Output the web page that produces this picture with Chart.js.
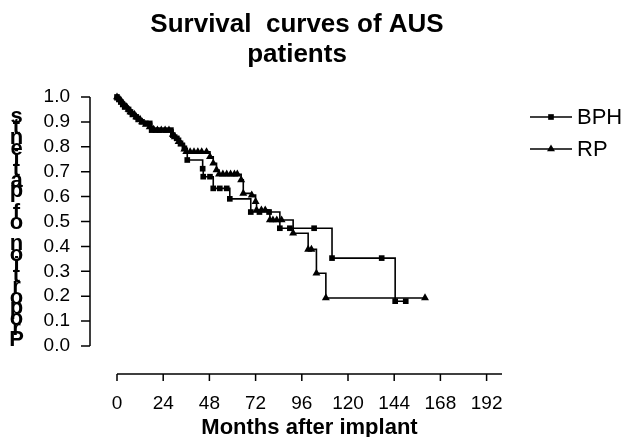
<!DOCTYPE html>
<html>
<head>
<meta charset="utf-8">
<script src="https://cdn.jsdelivr.net/npm/chart.js@4"></script>
<style>
  html, body { margin: 0; padding: 0; background: #fff; }
</style>
</head>
<body>
<canvas id="chart" width="624" height="437"></canvas>
<script>
const titleLines = ['Survival  curves of AUS', 'patients'];
const xTitle = 'Months after implant';
const yTitle = 'Proportion of patients';
const xTicks = [0, 24, 48, 72, 96, 120, 144, 168, 192];
const yTicks = [0, 0.1, 0.2, 0.3, 0.4, 0.5, 0.6, 0.7, 0.8, 0.9, 1.0];

const bphMonths = [0, 1, 2, 3, 4, 6, 7, 8, 10, 11, 13, 15, 17, 18, 20, 22, 25, 28, 29, 31, 33, 35,
  36.5, 44.5, 44.8, 48.3, 50, 53.4, 57, 58.6, 69.5, 74, 79, 84.6, 89.8, 102.4, 111.7, 137.5, 144.5, 150];
const bphSurvival = [1.0, 0.99, 0.98, 0.97, 0.96, 0.95, 0.94, 0.93, 0.92, 0.91, 0.90, 0.894, 0.894, 0.867,
  0.867, 0.867, 0.867, 0.867, 0.847, 0.834, 0.814, 0.794, 0.747, 0.712, 0.68, 0.68, 0.633, 0.633, 0.633,
  0.591, 0.538, 0.538, 0.538, 0.473, 0.473, 0.473, 0.353, 0.353, 0.18, 0.18];

const rpMonths = [0, 0.5, 1.5, 2.5, 3.5, 5, 6, 7, 9, 10, 12, 13, 15, 17, 19, 21, 23, 25, 27, 29, 30, 32,
  33.5, 35, 36, 38, 40, 42, 44, 46.5, 48.3, 50, 51.7, 53, 55, 57, 59, 61, 62.5, 64.5, 65.6, 70, 72, 72.5,
  75, 77, 79.4, 81, 83, 85.5, 91.5, 99.3, 101, 103.6, 108.5, 160];
const rpSurvival = [1.0, 0.995, 0.99, 0.98, 0.97, 0.96, 0.95, 0.94, 0.93, 0.92, 0.91, 0.90, 0.89, 0.88,
  0.87, 0.867, 0.867, 0.867, 0.867, 0.85, 0.84, 0.82, 0.81, 0.79, 0.78, 0.78, 0.78, 0.78, 0.78, 0.78,
  0.76, 0.734, 0.707, 0.69, 0.69, 0.69, 0.69, 0.69, 0.69, 0.667, 0.613, 0.606, 0.58, 0.546, 0.546, 0.546,
  0.506, 0.506, 0.506, 0.506, 0.453, 0.388, 0.388, 0.292, 0.193, 0.193];

const toPoints = (xs, ys) => xs.map((x, i) => ({ x: x, y: ys[i] }));
const FONT = "'Liberation Sans', Arial, sans-serif";

// title, stacked y title, offset axes and legend are drawn by hand
const extras = {
  id: 'extras',
  afterDraw(chart) {
    const ctx = chart.ctx;
    const area = chart.chartArea;
    const xs = chart.scales.x;
    const ys = chart.scales.y;
    ctx.save();
    ctx.strokeStyle = '#000';
    ctx.fillStyle = '#000';
    ctx.lineWidth = 1.5;

    // y axis, pulled left of the plot
    const ax = area.left - 27;
    ctx.beginPath();
    ctx.moveTo(ax, ys.getPixelForValue(1));
    ctx.lineTo(ax, ys.getPixelForValue(0));
    yTicks.forEach(v => {
      const py = ys.getPixelForValue(v);
      ctx.moveTo(ax - 9, py);
      ctx.lineTo(ax, py);
    });
    ctx.stroke();

    // x axis, pushed below the plot
    const ay = area.bottom + 28;
    ctx.beginPath();
    ctx.moveTo(xs.getPixelForValue(0), ay);
    ctx.lineTo(xs.getPixelForValue(200), ay);
    xTicks.forEach(v => {
      const px = xs.getPixelForValue(v);
      ctx.moveTo(px, ay);
      ctx.lineTo(px, ay + 7);
    });
    ctx.stroke();

    // title
    ctx.font = 'bold 26px ' + FONT;
    ctx.textAlign = 'center';
    ctx.textBaseline = 'middle';
    titleLines.forEach((t, i) => ctx.fillText(t, 297, 25 + i * 30));

    // y title, one letter per line, bottom-up
    ctx.font = 'bold 22px ' + FONT;
    ctx.textBaseline = 'alphabetic';
    const chars = yTitle.split('').reverse();
    chars.forEach((c, i) => ctx.fillText(c, 16.5, 123 + i * 10.62));

    // legend
    ctx.font = '22px ' + FONT;
    ctx.textAlign = 'left';
    ctx.textBaseline = 'middle';
    chart.data.datasets.forEach((ds, i) => {
      const ly = 117 + i * 32;
      ctx.beginPath();
      ctx.moveTo(530, ly);
      ctx.lineTo(572, ly);
      ctx.stroke();
      Chart.helpers.drawPoint(ctx, { pointStyle: ds.pointStyle, rotation: 0, radius: ds.pointRadius, borderWidth: 0 }, 551, ly);
      ctx.fillStyle = '#000';
      ctx.fillText(ds.label, 577, ly + 1);
    });
    ctx.restore();
  }
};

new Chart(document.getElementById('chart').getContext('2d'), {
  type: 'line',
  data: {
    datasets: [
      {
        label: 'BPH',
        data: toPoints(bphMonths, bphSurvival),
        stepped: true,
        borderColor: '#000',
        borderWidth: 1.6,
        pointStyle: 'rect',
        pointRadius: 4,
        pointBackgroundColor: '#000',
        pointBorderWidth: 0,
        clip: false
      },
      {
        label: 'RP',
        data: toPoints(rpMonths, rpSurvival),
        stepped: true,
        borderColor: '#000',
        borderWidth: 1.6,
        pointStyle: 'triangle',
        pointRadius: 4.6,
        pointBackgroundColor: '#000',
        pointBorderWidth: 0,
        clip: false
      }
    ]
  },
  options: {
    responsive: false,
    animation: false,
    layout: { padding: { top: 97, right: 122, left: 0, bottom: 0 } },
    plugins: {
      legend: { display: false },
      title: { display: false },
      tooltip: { enabled: false }
    },
    scales: {
      x: {
        type: 'linear',
        min: 0,
        max: 200,
        afterBuildTicks: s => { s.ticks = xTicks.map(v => ({ value: v })); },
        afterFit: s => { s.height = 91; },
        grid: { display: false },
        border: { display: false },
        ticks: { color: '#000', font: { family: FONT, size: 19 }, padding: 38, maxRotation: 0, autoSkip: false },
        title: {
          display: true,
          text: xTitle,
          color: '#000',
          font: { family: FONT, size: 22, weight: 'bold', lineHeight: 1 },
          padding: { top: 0, bottom: -2 }
        }
      },
      y: {
        min: 0,
        max: 1,
        afterBuildTicks: s => { s.ticks = yTicks.map(v => ({ value: v })); },
        afterFit: s => { s.width = 117; },
        grid: { display: false },
        border: { display: false },
        ticks: { color: '#000', font: { family: FONT, size: 19 }, padding: 39, autoSkip: false, callback: v => v.toFixed(1) }
      }
    }
  },
  plugins: [extras]
});
</script>
</body>
</html>
